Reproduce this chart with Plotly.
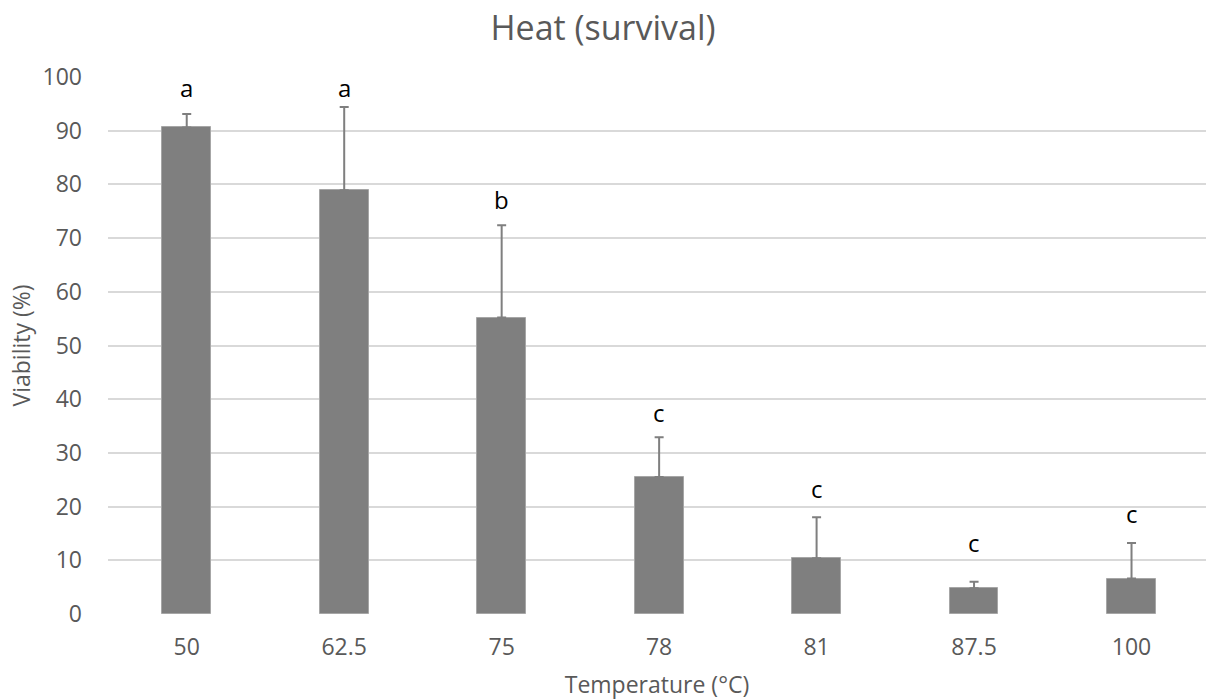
import plotly.graph_objects as go

categories = ["50", "62.5", "75", "78", "81", "87.5", "100"]
viability = [90.6, 78.9, 55.2, 25.5, 10.4, 4.8, 6.6]
error_plus = [2.5, 15.5, 17.2, 7.4, 7.6, 1.2, 6.6]
letters = ["a", "a", "b", "c", "c", "c", "c"]
letter_y = [98.1, 98.1, 77.1, 37.6, 23.4, 13.4, 18.8]
y_ticks = [0, 10, 20, 30, 40, 50, 60, 70, 80, 90, 100]

FONT = "Open Sans"
GREY_TXT = "#595959"

xpos = list(range(len(categories)))

fig = go.Figure()
fig.add_trace(go.Bar(
    x=xpos, y=viability,
    width=0.31,
    marker=dict(color="#7f7f7f", line=dict(color="#a6a6a6", width=1)),
    error_y=dict(type="data", symmetric=False, array=error_plus,
                 arrayminus=[0] * len(viability),
                 color="#7f7f7f", thickness=2, width=4.5),
    showlegend=False,
))

for xi, lt, ly in zip(xpos, letters, letter_y):
    fig.add_annotation(x=xi, y=ly, text=lt, showarrow=False,
                       xanchor="center", yanchor="middle",
                       font=dict(family=FONT, size=24, color="#000000"))

fig.update_layout(
    width=1206, height=700,
    margin=dict(l=108, r=0, t=77, b=86),
    paper_bgcolor="white", plot_bgcolor="white",
    font=dict(family=FONT, color=GREY_TXT),
    title=dict(text="Heat (survival)", x=0.5, xanchor="center",
               y=0.96, yanchor="middle",
               font=dict(family=FONT, size=34, color=GREY_TXT)),
    bargap=0,
)
fig.update_xaxes(
    tickvals=xpos, ticktext=categories,
    range=[-0.5, 6.473],
    showgrid=False, zeroline=False, showline=False, ticks="",
    ticklabelstandoff=17,
    tickfont=dict(family=FONT, size=23, color=GREY_TXT),
    title=dict(text="Temperature (°C)", standoff=16,
               font=dict(family=FONT, size=23, color=GREY_TXT)),
)
fig.update_yaxes(
    range=[0, 100], tickvals=y_ticks,
    showgrid=True, gridcolor="#d9d9d9", gridwidth=1.5,
    zeroline=False, showline=False, ticks="",
    ticklabelstandoff=25,
    tickfont=dict(family=FONT, size=23, color=GREY_TXT),
    title=dict(text="Viability (%)", standoff=5,
               font=dict(family=FONT, size=23, color=GREY_TXT)),
)

fig.write_html("out.html")
